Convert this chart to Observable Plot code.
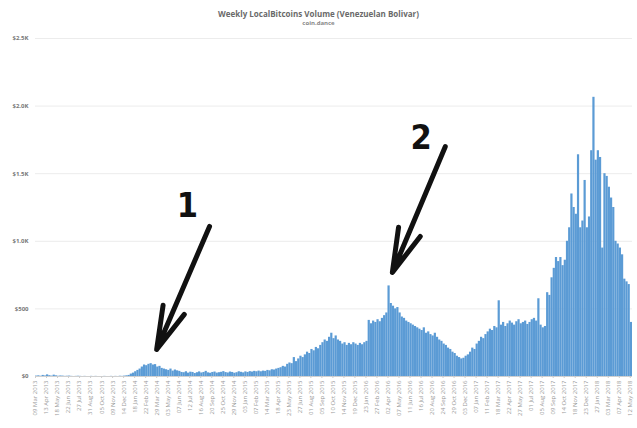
<!DOCTYPE html>
<html>
<head>
<meta charset="utf-8">
<script src="https://cdn.jsdelivr.net/npm/d3@7"></script>
<script src="https://cdn.jsdelivr.net/npm/@observablehq/plot@0.6"></script>
<style>
  html, body { margin: 0; padding: 0; background: #fff; }
  #wrap { width: 637px; }
  #head { height: 32px; text-align: center; font-family: "Open Sans", "DejaVu Sans", sans-serif; color: #6a6a6a; }
  #title { font-size: 8px; font-weight: bold; padding-top: 8px; line-height: 11px; }
  #sub { font-size: 6px; font-weight: bold; line-height: 8px; color: #888; }
</style>
</head>
<body>
<div id="wrap">
  <div id="head">
    <div id="title">Weekly LocalBitcoins Volume (Venezuelan Bolivar)</div>
    <div id="sub">coin.dance</div>
  </div>
  <div id="chart"></div>
</div>
<script>
// Weekly volume values (one per week)
const volume = [
  3,5,2,8,4,12,6,3,10,5,
  2,4,3,1,2,3,1,0,1,2,
  1,0,1,0,0,1,0,1,0,0,
  0,1,0,0,1,0,1,0,2,1,
  3,5,8,
  18,25,35,45,
  55,70,85,80,90,95,85,88,70,75,60,55,
  50,45,55,40,48,42,38,
  30,28,35,25,32,30,22,28,34,26,
  30,38,27,24,30,33,25,28,31,36,
  29,26,33,30,24,28,35,31,27,34,
  30,36,33,38,35,40,
  35,40,38,45,42,50,48,55,60,
  65,75,70,90,100,95,140,
  110,130,150,140,160,
  180,170,200,190,215,205,230,
  250,270,260,290,320,280,300,270,260,
  240,250,230,245,235,250,240,230,245,235,250,260,
  415,390,410,400,420,405,430,
  450,470,670,
  540,520,500,510,
  470,440,430,410,400,390,380,370,360,
  350,340,360,320,330,310,300,320,290,
  270,260,240,230,210,200,180,170,150,
  140,130,135,150,160,
  180,210,200,240,260,290,280,310,330,350,340,370,360,
  560,
  380,400,370,390,410,395,380,405,420,390,400,410,385,400,420,430,410,
  575,
  380,360,370,
  620,
  600,730,800,880,850,
  880,820,860,
  1000,1100,1350,1250,1200,
  1640,
  1100,1150,
  1450,
  1100,1180,
  1670,
  2065,
  1600,1670,1620,
  950,
  1500,1480,1400,
  1320,1250,
  1000,980,950,900,
  720,700,680,
  400
];
const firstWeek = "2013-03-09";
const yTicks = [0, 500, 1000, 1500, 2000, 2500];
const yTickLabels = ["$0", "$500", "$1.0K", "$1.5K", "$2.0K", "$2.5K"];
const labelEvery = 5;
// annotation arrows: week index and value of tail and head
const arrowLabels = ["1", "2"];
const arrowFromWeek = [79, 186];
const arrowFromValue = [1110, 1700];
const arrowToWeek = [55, 162];
const arrowToValue = [200, 770];
const numberWeek = [69, 175];
const numberValue = [1260, 1760];

const parse = d3.utcParse("%Y-%m-%d");
const fmt = d3.utcFormat("%d %b %Y");
const start = parse(firstWeek);
const weekLabels = volume.map((_, i) => fmt(d3.utcWeek.offset(start, i)));
const data = volume.map((v, i) => ({i, v}));
const arrows = arrowLabels.map((l, k) => ({
  l, x1: arrowFromWeek[k], y1: arrowFromValue[k], x2: arrowToWeek[k], y2: arrowToValue[k],
  tx: numberWeek[k], ty: numberValue[k]
}));
const xTicks = d3.range(0, volume.length, labelEvery);

const chart = Plot.plot({
  width: 637,
  height: 396,
  marginLeft: 35,
  marginRight: 5,
  marginTop: 6,
  marginBottom: 52,
  style: {fontFamily: "'Open Sans', 'DejaVu Sans', sans-serif", background: "#fff"},
  x: {domain: [0, volume.length], axis: null},
  y: {domain: [0, 2500], axis: null},
  marks: [
    Plot.ruleY(yTicks, {stroke: "#ececec", strokeWidth: 1}),
    Plot.rectY(data, {x1: "i", x2: d => d.i + 1, y: "v", fill: "#5b9bd5"}),
    Plot.ruleY([0], {stroke: "#d0d0d0"}),
    Plot.axisY({ticks: yTicks, tickFormat: (d) => yTickLabels[yTicks.indexOf(d)], tickSize: 0, tickPadding: 7, fontSize: 6, fill: "#777", fontWeight: "bold"}),
    Plot.axisX({ticks: xTicks, tickFormat: i => weekLabels[i], tickRotate: -90, tickSize: 2, tickPadding: 2, fontSize: 6, fill: "#999", stroke: "#ccc"}),
    Plot.arrow(arrows, {x1: "x1", y1: "y1", x2: "x2", y2: "y2", stroke: "#111", strokeWidth: 5, headLength: 24, headAngle: 30}),
    Plot.text(arrows, {x: "tx", y: "ty", text: "l", fontSize: 34, fontWeight: "bold", fill: "#111", fontFamily: "'DejaVu Sans Condensed', 'DejaVu Sans', sans-serif"})
  ]
});
document.getElementById("chart").appendChild(chart);
</script>
</body>
</html>
